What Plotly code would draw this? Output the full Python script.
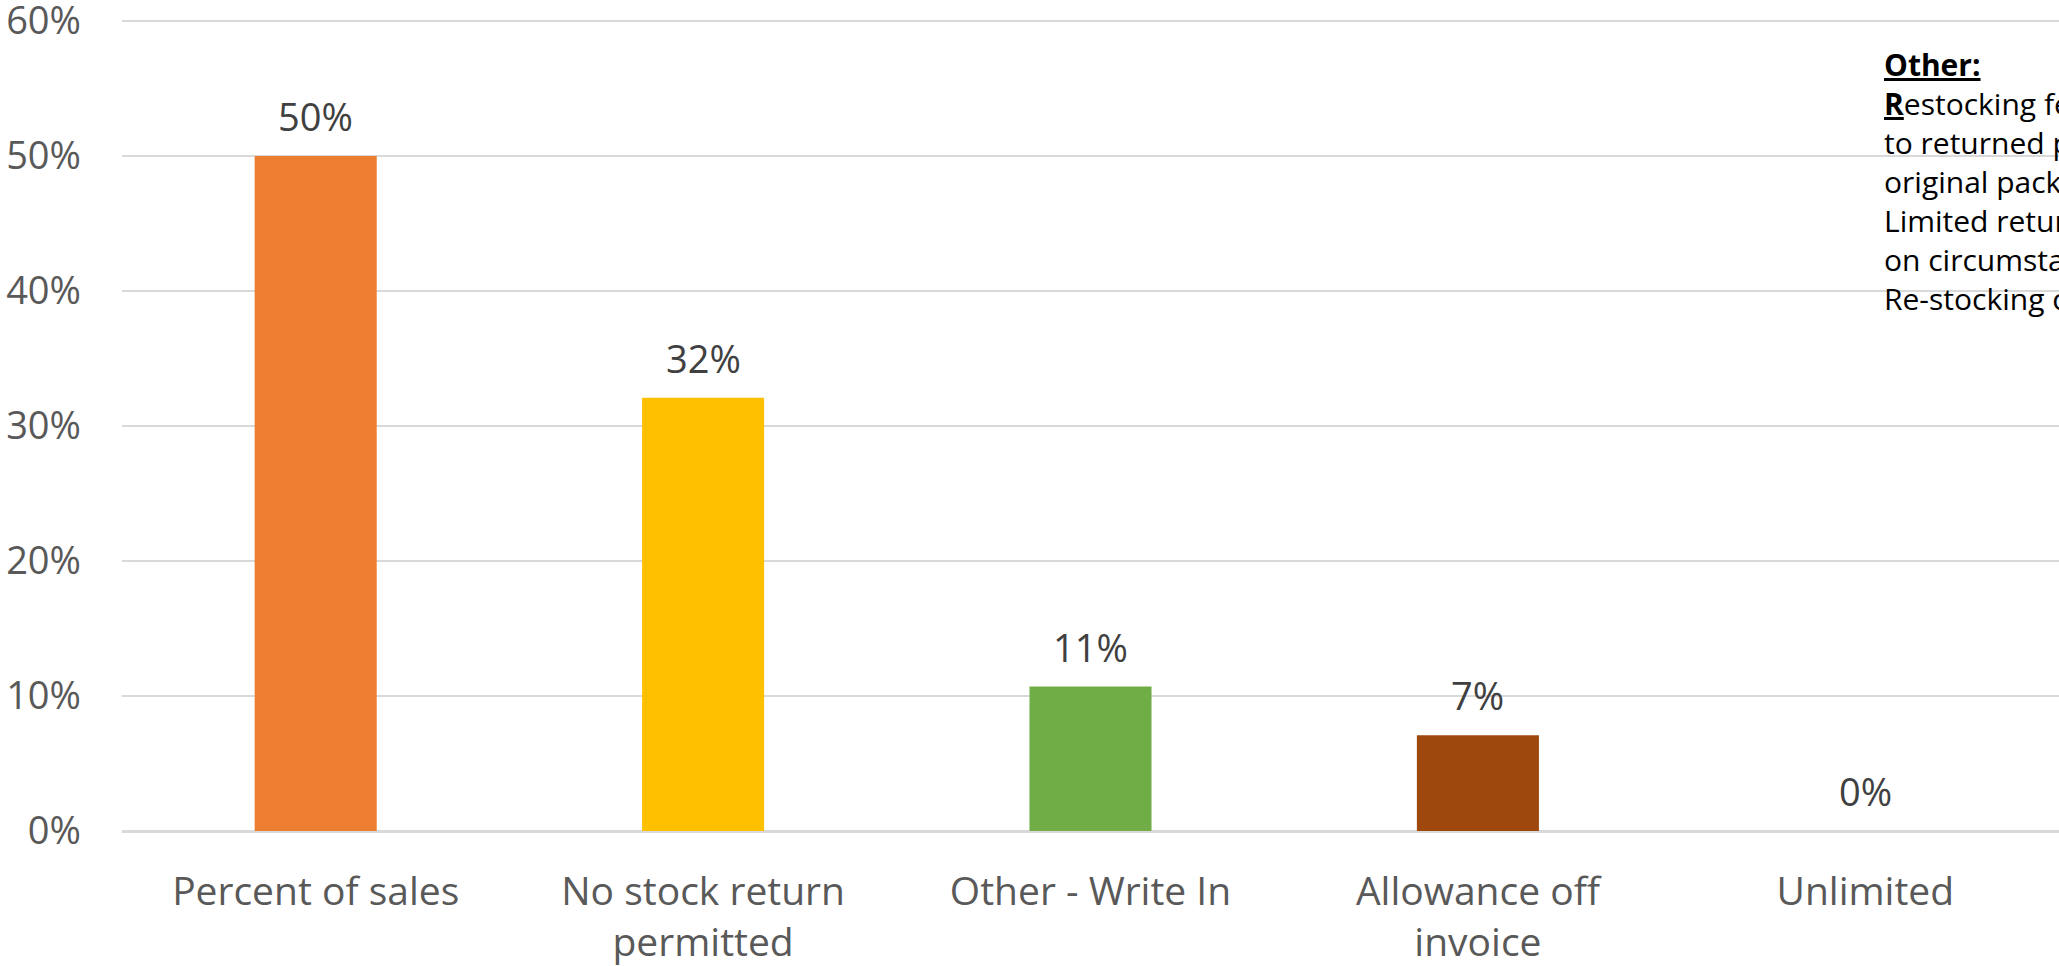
import plotly.graph_objects as go

# Survey responses: stock-return policy type (share of respondents)
categories = [
    "Percent of sales",
    "No stock return<br>permitted",
    "Other - Write In",
    "Allowance off<br>invoice",
    "Unlimited",
]
shares = [0.500, 0.321, 0.107, 0.071, 0.000]
bar_colors = ["#ED7D31", "#FFC000", "#70AD47", "#9E480E", "#5B9BD5"]
y_ticks = [0.0, 0.1, 0.2, 0.3, 0.4, 0.5, 0.6]

note_lines = [
    "<b><u>Other:</u></b>",
    "<b><u>R</u></b>estocking fee applied",
    "to returned product in",
    "original packaging",
    "Limited returns depending",
    "on circumstances",
    "Re-stocking charge",
]

FONT = "Open Sans, Noto Sans, sans-serif"

fig = go.Figure(
    go.Bar(
        x=categories,
        y=shares,
        marker=dict(color=bar_colors, line=dict(width=0)),
        hoverinfo="skip",
    )
)

# value labels above each bar
for cat, val in zip(categories, shares):
    fig.add_annotation(
        x=cat, y=val, xref="x", yref="y",
        text=f"{val:.0%}",
        showarrow=False,
        yanchor="bottom",
        yshift=12,
        font=dict(family=FONT, size=38, color="#404040"),
    )

# side note listing write-in answers
fig.add_annotation(
    x=0.9086, y=1.0, xref="paper", yref="paper",
    xanchor="left", yanchor="top", align="left",
    yshift=-23,
    text="<br>".join(note_lines),
    showarrow=False,
    font=dict(family=FONT, size=30, color="#000000"),
)

fig.update_layout(
    width=2059,
    height=966,
    margin=dict(l=122, r=0, t=19, b=135, autoexpand=False),
    paper_bgcolor="white",
    plot_bgcolor="white",
    bargap=0.685,
    showlegend=False,
    font=dict(family=FONT, size=38, color="#595959"),
)

# a little headroom so the 60% gridline sits just inside the plot area
fig.update_yaxes(
    range=[0, 0.6015],
    tickmode="array",
    tickvals=y_ticks,
    ticktext=[f"{t:.0%}" for t in y_ticks],
    ticklabeloverflow="allow",
    automargin=False,
    showgrid=True,
    gridcolor="#D9D9D9",
    gridwidth=1.5,
    zeroline=True,
    zerolinecolor="#D9D9D9",
    zerolinewidth=2.5,
    showline=False,
    ticks="",
    ticklabelstandoff=40,
    tickfont=dict(family=FONT, size=38, color="#595959"),
)

fig.update_xaxes(
    automargin=False,
    showgrid=False,
    showline=False,
    ticks="",
    ticklabelstandoff=34,
    tickfont=dict(family=FONT, size=39, color="#595959"),
)

fig.write_html("out.html")
